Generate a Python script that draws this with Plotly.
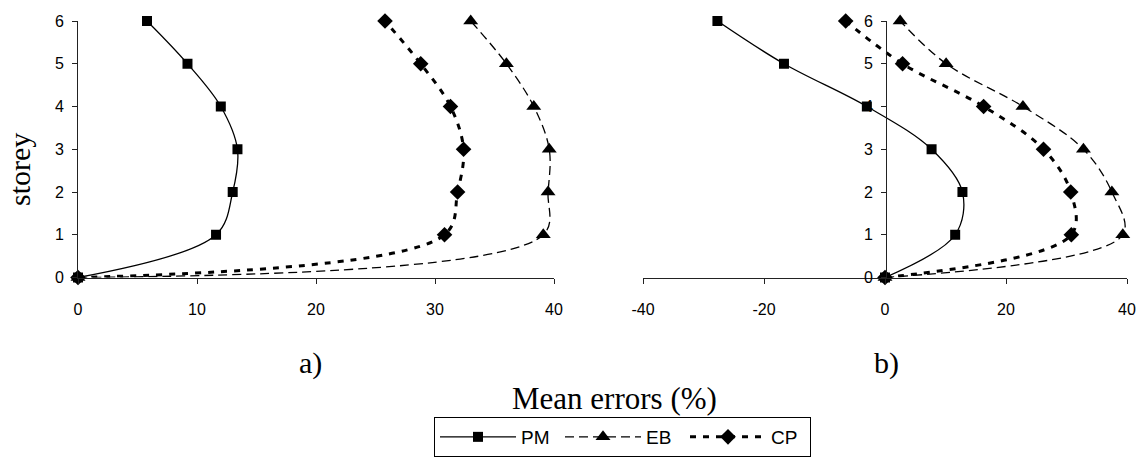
import plotly.graph_objects as go

storeys = [0, 1, 2, 3, 4, 5, 6]

# panel a)
a_pm = [0, 11.6, 13.0, 13.4, 12.0, 9.2, 5.8]
a_eb = [0, 39.1, 39.5, 39.6, 38.3, 36.0, 33.0]
a_cp = [0, 30.8, 31.9, 32.4, 31.3, 28.8, 25.8]

# panel b)
b_pm = [0, 11.6, 12.8, 7.7, -3.0, -16.7, -27.7]
b_eb = [0, 39.3, 37.5, 32.8, 22.8, 10.1, 2.5]
b_cp = [0, 30.8, 30.7, 26.2, 16.3, 2.9, -6.5]

series_names = ["PM", "EB", "CP"]
a_ticks = [0, 10, 20, 30, 40]
b_ticks = [-40, -20, 0, 20, 40]
b_ticktext = ["-40", "-20", "0", "20", "40"]
y_ticks = [0, 1, 2, 3, 4, 5, 6]

# page body has an 8px margin; size the figure to fit the window exactly
OFF = 8
FW, FH = 1144 - OFF, 459 - OFF


def px(x):
    return (x - OFF) / FW


def py(y):
    return 1 - (y - OFF) / FH


SANS = "Liberation Sans, Arial, sans-serif"
SERIF = "Liberation Serif, Times New Roman, serif"

styles = {
    "PM": dict(line=dict(color="black", width=1.3, dash="solid", shape="spline", smoothing=1),
               marker=dict(symbol="square", size=10, color="black")),
    "EB": dict(line=dict(color="black", width=1.3, dash="9px,5px", shape="spline", smoothing=1),
               marker=dict(symbol="triangle-up", size=13, color="black")),
    "CP": dict(line=dict(color="black", width=3, dash="6px,7px", shape="spline", smoothing=1),
               marker=dict(symbol="diamond", size=12, color="black")),
}

fig = go.Figure()
for name, xs in zip(series_names, [a_pm, a_eb, a_cp]):
    fig.add_trace(go.Scatter(x=xs, y=storeys, mode="lines+markers", name=name,
                             xaxis="x", yaxis="y", cliponaxis=False, **styles[name]))
for name, xs in zip(series_names, [b_pm, b_eb, b_cp]):
    fig.add_trace(go.Scatter(x=xs, y=storeys, mode="lines+markers", name=name,
                             xaxis="x2", yaxis="y2", cliponaxis=False, showlegend=False,
                             **styles[name]))

ydom = [py(277.5), py(21)]
axis_common = dict(showline=True, linecolor="#222", linewidth=1, ticks="outside",
                   ticklen=5, tickcolor="#222", showgrid=False, zeroline=False,
                   tickfont=dict(family=SANS, size=16, color="black"))

fig.update_layout(
    width=FW, height=FH,
    margin=dict(l=0, r=0, t=0, b=0, autoexpand=False),
    paper_bgcolor="white", plot_bgcolor="white",
    xaxis=dict(domain=[px(78), px(554)], range=[0, 40], tickvals=a_ticks, anchor="y",
               ticklabelstandoff=12, **axis_common),
    yaxis=dict(domain=ydom, range=[0, 6], tickvals=y_ticks, anchor="x",
               ticklabelstandoff=5, **axis_common),
    xaxis2=dict(domain=[px(643), px(1127)], range=[-40, 40], tickvals=b_ticks,
                ticktext=b_ticktext, anchor="y2", ticklabelstandoff=12, **axis_common),
    yaxis2=dict(domain=ydom, range=[0, 6], tickvals=y_ticks, anchor="free",
                position=px(886), ticklabelstandoff=5, **axis_common),
    showlegend=True,
    legend=dict(orientation="h", x=px(434), y=py(417), xanchor="left", yanchor="top",
                bordercolor="black", borderwidth=1, itemwidth=76, entrywidth=34,
                font=dict(family=SANS, size=19, color="black"), bgcolor="white"),
    annotations=[
        dict(text="storey", x=px(20), y=py(170), xref="paper", yref="paper",
             xanchor="center", yanchor="middle",
             showarrow=False, textangle=-90, font=dict(family=SERIF, size=30, color="black")),
        dict(text="a)", x=px(310), y=py(363), xref="paper", yref="paper",
             xanchor="center", yanchor="middle",
             showarrow=False, font=dict(family=SERIF, size=30, color="black")),
        dict(text="b)", x=px(886), y=py(363), xref="paper", yref="paper",
             xanchor="center", yanchor="middle",
             showarrow=False, font=dict(family=SERIF, size=30, color="black")),
        dict(text="Mean errors (%)", x=px(614), y=py(398), xref="paper", yref="paper",
             xanchor="center", yanchor="middle",
             showarrow=False, font=dict(family=SERIF, size=31, color="black")),
    ],
)

fig.write_html("out.html")
